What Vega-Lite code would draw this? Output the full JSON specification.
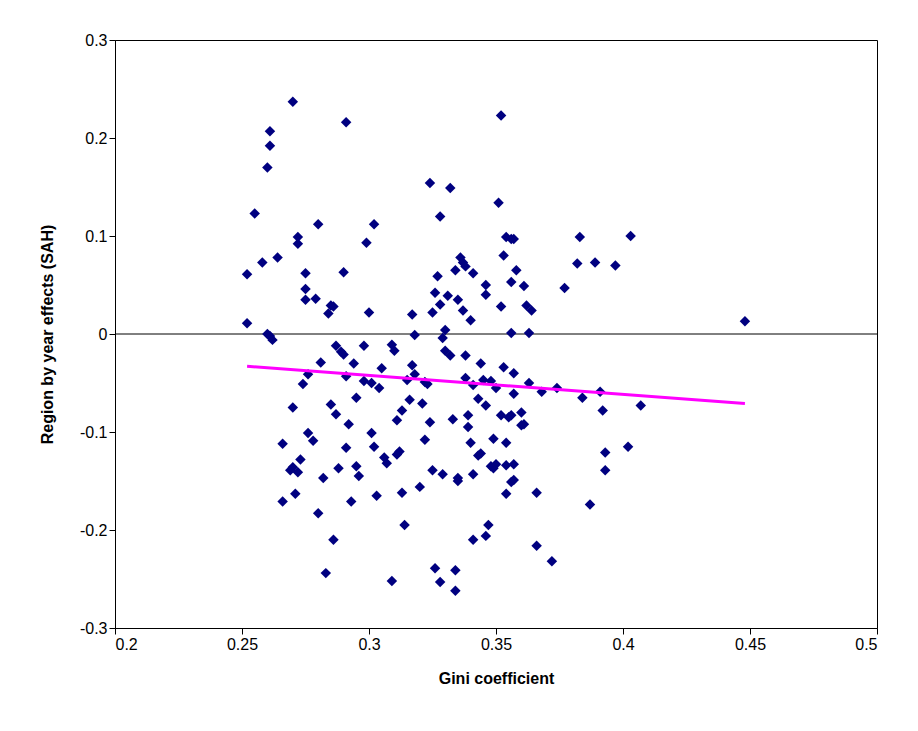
{
"$schema":"https://vega.github.io/schema/vega-lite/v6.json",
"autosize":"none","width":762,"height":588,
"padding":{"left":115,"top":40,"right":41,"bottom":103},
"background":"white",
"config":{"view":{"stroke":"#000","strokeWidth":1},"font":"Liberation Sans",
"axis":{"grid":false,"domainColor":"#000","tickColor":"#000","labelColor":"#000","titleColor":"#000","labelFontSize":16,"titleFontSize":16,"titleFontWeight":"bold","tickSize":6,"labelFont":"Liberation Sans","titleFont":"Liberation Sans","labelExpr":"datum.value + ''"}},
"datasets":{
"pts":[
{"gini":0.252,"effect":0.011},{"gini":0.252,"effect":0.061},{"gini":0.255,"effect":0.123},{"gini":0.258,"effect":0.073},{"gini":0.260,"effect":0.170},{"gini":0.261,"effect":0.207},{"gini":0.261,"effect":0.192},{"gini":0.260,"effect":0.000},{"gini":0.261,"effect":-0.002},{"gini":0.262,"effect":-0.006},{"gini":0.264,"effect":0.078},{"gini":0.266,"effect":-0.112},{"gini":0.266,"effect":-0.171},{"gini":0.269,"effect":-0.139},{"gini":0.270,"effect":-0.136},{"gini":0.270,"effect":0.237},{"gini":0.272,"effect":0.099},{"gini":0.272,"effect":0.092},{"gini":0.270,"effect":-0.075},{"gini":0.271,"effect":-0.163},{"gini":0.272,"effect":-0.141},{"gini":0.273,"effect":-0.128},{"gini":0.274,"effect":-0.051},{"gini":0.275,"effect":0.046},{"gini":0.275,"effect":0.035},{"gini":0.275,"effect":0.062},{"gini":0.276,"effect":-0.041},{"gini":0.276,"effect":-0.101},{"gini":0.278,"effect":-0.109},{"gini":0.279,"effect":0.036},{"gini":0.280,"effect":0.112},{"gini":0.280,"effect":-0.183},{"gini":0.281,"effect":-0.029},{"gini":0.282,"effect":-0.147},{"gini":0.283,"effect":-0.244},{"gini":0.284,"effect":0.021},{"gini":0.285,"effect":0.029},{"gini":0.286,"effect":0.028},{"gini":0.285,"effect":-0.072},{"gini":0.286,"effect":-0.210},{"gini":0.287,"effect":-0.012},{"gini":0.287,"effect":-0.082},{"gini":0.288,"effect":-0.137},{"gini":0.289,"effect":-0.018},{"gini":0.290,"effect":-0.021},{"gini":0.290,"effect":0.063},{"gini":0.291,"effect":0.216},{"gini":0.291,"effect":-0.043},{"gini":0.291,"effect":-0.116},{"gini":0.292,"effect":-0.092},{"gini":0.293,"effect":-0.171},{"gini":0.294,"effect":-0.030},{"gini":0.295,"effect":-0.135},{"gini":0.295,"effect":-0.065},{"gini":0.296,"effect":-0.145},{"gini":0.298,"effect":-0.048},{"gini":0.298,"effect":-0.012},{"gini":0.299,"effect":0.093},{"gini":0.300,"effect":0.022},{"gini":0.301,"effect":-0.050},{"gini":0.301,"effect":-0.101},{"gini":0.302,"effect":-0.115},{"gini":0.302,"effect":0.112},{"gini":0.303,"effect":-0.165},{"gini":0.304,"effect":-0.055},{"gini":0.305,"effect":-0.035},{"gini":0.306,"effect":-0.126},{"gini":0.307,"effect":-0.132},{"gini":0.309,"effect":-0.252},{"gini":0.309,"effect":-0.011},{"gini":0.310,"effect":-0.017},{"gini":0.311,"effect":-0.088},{"gini":0.311,"effect":-0.123},{"gini":0.312,"effect":-0.120},{"gini":0.313,"effect":-0.162},{"gini":0.313,"effect":-0.078},{"gini":0.314,"effect":-0.195},{"gini":0.315,"effect":-0.047},{"gini":0.316,"effect":-0.067},{"gini":0.317,"effect":-0.032},{"gini":0.317,"effect":0.020},{"gini":0.318,"effect":-0.001},{"gini":0.318,"effect":-0.041},{"gini":0.320,"effect":-0.156},{"gini":0.321,"effect":-0.071},{"gini":0.322,"effect":-0.049},{"gini":0.322,"effect":-0.108},{"gini":0.323,"effect":-0.051},{"gini":0.324,"effect":-0.090},{"gini":0.324,"effect":0.154},{"gini":0.325,"effect":0.022},{"gini":0.325,"effect":-0.139},{"gini":0.326,"effect":-0.239},{"gini":0.326,"effect":0.042},{"gini":0.327,"effect":0.059},{"gini":0.328,"effect":-0.253},{"gini":0.328,"effect":0.030},{"gini":0.328,"effect":0.120},{"gini":0.329,"effect":-0.143},{"gini":0.329,"effect":-0.004},{"gini":0.330,"effect":0.004},{"gini":0.330,"effect":-0.017},{"gini":0.331,"effect":0.039},{"gini":0.332,"effect":-0.022},{"gini":0.332,"effect":0.149},{"gini":0.333,"effect":-0.087},{"gini":0.334,"effect":0.065},{"gini":0.334,"effect":-0.262},{"gini":0.334,"effect":-0.241},{"gini":0.335,"effect":-0.147},{"gini":0.335,"effect":-0.150},{"gini":0.335,"effect":0.035},{"gini":0.336,"effect":0.078},{"gini":0.337,"effect":0.073},{"gini":0.338,"effect":0.069},{"gini":0.337,"effect":0.024},{"gini":0.338,"effect":-0.022},{"gini":0.338,"effect":-0.045},{"gini":0.339,"effect":-0.095},{"gini":0.339,"effect":-0.083},{"gini":0.340,"effect":0.014},{"gini":0.340,"effect":-0.111},{"gini":0.341,"effect":-0.052},{"gini":0.341,"effect":-0.143},{"gini":0.341,"effect":0.062},{"gini":0.341,"effect":-0.210},{"gini":0.343,"effect":-0.066},{"gini":0.343,"effect":-0.124},{"gini":0.344,"effect":-0.122},{"gini":0.344,"effect":-0.030},{"gini":0.345,"effect":-0.047},{"gini":0.346,"effect":-0.206},{"gini":0.346,"effect":0.050},{"gini":0.346,"effect":0.040},{"gini":0.346,"effect":-0.073},{"gini":0.347,"effect":-0.195},{"gini":0.348,"effect":-0.135},{"gini":0.348,"effect":-0.048},{"gini":0.349,"effect":-0.137},{"gini":0.350,"effect":-0.055},{"gini":0.349,"effect":-0.107},{"gini":0.350,"effect":-0.133},{"gini":0.351,"effect":0.134},{"gini":0.352,"effect":0.223},{"gini":0.352,"effect":0.028},{"gini":0.352,"effect":-0.083},{"gini":0.353,"effect":-0.034},{"gini":0.353,"effect":0.080},{"gini":0.354,"effect":-0.134},{"gini":0.354,"effect":-0.163},{"gini":0.354,"effect":-0.111},{"gini":0.355,"effect":-0.085},{"gini":0.354,"effect":0.099},{"gini":0.356,"effect":0.097},{"gini":0.357,"effect":0.097},{"gini":0.356,"effect":0.001},{"gini":0.356,"effect":0.053},{"gini":0.356,"effect":-0.083},{"gini":0.356,"effect":-0.151},{"gini":0.357,"effect":-0.149},{"gini":0.357,"effect":-0.040},{"gini":0.357,"effect":-0.061},{"gini":0.357,"effect":-0.133},{"gini":0.358,"effect":0.065},{"gini":0.360,"effect":-0.093},{"gini":0.360,"effect":-0.080},{"gini":0.361,"effect":-0.092},{"gini":0.361,"effect":0.049},{"gini":0.362,"effect":0.029},{"gini":0.363,"effect":0.001},{"gini":0.363,"effect":-0.050},{"gini":0.364,"effect":0.024},{"gini":0.366,"effect":-0.162},{"gini":0.366,"effect":-0.216},{"gini":0.368,"effect":-0.059},{"gini":0.372,"effect":-0.232},{"gini":0.374,"effect":-0.055},{"gini":0.377,"effect":0.047},{"gini":0.382,"effect":0.072},{"gini":0.383,"effect":0.099},{"gini":0.384,"effect":-0.065},{"gini":0.387,"effect":-0.174},{"gini":0.389,"effect":0.073},{"gini":0.391,"effect":-0.059},{"gini":0.392,"effect":-0.078},{"gini":0.393,"effect":-0.121},{"gini":0.393,"effect":-0.139},{"gini":0.397,"effect":0.070},{"gini":0.403,"effect":0.100},{"gini":0.402,"effect":-0.115},{"gini":0.407,"effect":-0.073},{"gini":0.448,"effect":0.013}
],
"trend":[{"gini":0.252,"effect":-0.033},{"gini":0.448,"effect":-0.071}],
"zero":[{"effect":0}]
},
"layer":[
{"data":{"name":"zero"},"mark":{"type":"rule","color":"#000","strokeWidth":1},"encoding":{"y":{"field":"effect","type":"quantitative","scale":{"domain":[-0.3,0.3]}}}},
{"data":{"name":"pts"},
"mark":{"type":"point","shape":"diamond","filled":true,"color":"#000080","size":110,"opacity":1},
"encoding":{
"x":{"field":"gini","type":"quantitative","scale":{"domain":[0.2,0.5],"nice":false,"zero":false},"axis":{"title":"Gini coefficient","values":[0.2,0.25,0.3,0.35,0.4,0.45,0.5],"titlePadding":18}},
"y":{"field":"effect","type":"quantitative","scale":{"domain":[-0.3,0.3],"nice":false},"axis":{"title":"Region by year effects (SAH)","values":[-0.3,-0.2,-0.1,0,0.1,0.2,0.3],"titlePadding":24}}}},
{"data":{"name":"trend"},"mark":{"type":"line","color":"#FF00FF","strokeWidth":3},"encoding":{"x":{"field":"gini","type":"quantitative"},"y":{"field":"effect","type":"quantitative"}}}
]
}
